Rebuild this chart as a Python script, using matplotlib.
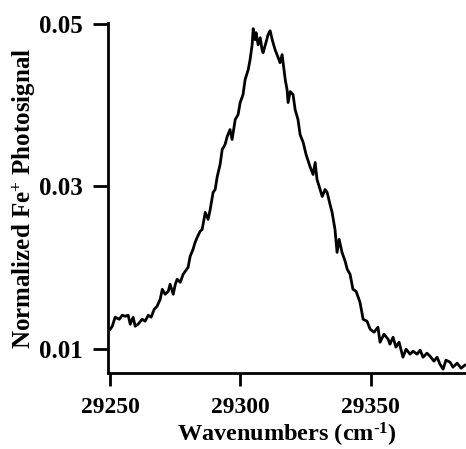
import matplotlib
matplotlib.use("Agg")
import matplotlib.pyplot as plt

# photosignal trace
wavenumber = [
    29250.0, 29250.8, 29251.9, 29253.5, 29254.6, 29255.8, 29256.9, 29257.7, 29258.8, 29259.6,
    29260.7, 29262.3, 29263.4, 29264.6, 29265.7, 29266.9, 29268.0, 29269.2, 29270.0, 29271.1,
    29272.3, 29273.0, 29274.2, 29275.0, 29275.7, 29276.9, 29278.0, 29278.8, 29279.9, 29280.7,
    29281.8, 29282.6, 29283.4, 29284.5, 29285.3, 29286.5, 29287.6, 29288.4, 29289.5, 29290.3,
    29291.1, 29292.2, 29293.0, 29294.1, 29294.9, 29296.0, 29296.8, 29298.0, 29299.1, 29299.9,
    29301.0, 29301.8, 29303.0, 29303.7, 29304.5, 29304.9, 29305.6, 29306.0, 29306.8, 29307.6,
    29308.3, 29308.7, 29309.9, 29310.6, 29311.4, 29312.2, 29313.3, 29314.5, 29315.2, 29316.0,
    29317.2, 29317.9, 29318.3, 29319.1, 29320.2, 29321.0, 29322.1, 29322.9, 29324.1, 29325.2,
    29326.7, 29327.9, 29328.7, 29329.4, 29330.6, 29331.4, 29332.5, 29333.3, 29334.4, 29335.2,
    29336.3, 29337.1, 29337.9, 29339.0, 29340.2, 29341.0, 29342.1, 29343.2, 29344.4, 29345.9,
    29347.1, 29348.6, 29349.8, 29351.3, 29352.8, 29353.6, 29355.1, 29356.7, 29357.4, 29358.6,
    29359.7, 29360.9, 29362.4, 29363.6, 29365.1, 29366.3, 29367.8, 29369.0, 29370.1, 29371.6,
    29372.8, 29374.3, 29375.5, 29376.6, 29377.8, 29378.9, 29380.5, 29381.6, 29383.2, 29384.7,
    29386.2,
]
signal = [
    0.01245, 0.01282, 0.01393, 0.01368, 0.01417, 0.01405, 0.01417, 0.01307, 0.01393, 0.01282,
    0.01307, 0.01368, 0.01344, 0.01417, 0.01393, 0.01491, 0.01528, 0.01613, 0.01736, 0.01675,
    0.01712, 0.01798, 0.01675, 0.01798, 0.01859, 0.01822, 0.01920, 0.01957, 0.02006, 0.02141,
    0.02227, 0.02313, 0.02374, 0.02448, 0.02472, 0.02681, 0.02595, 0.02718, 0.02926, 0.02963,
    0.03123, 0.03270, 0.03454, 0.03515, 0.03613, 0.03699, 0.03577, 0.03822, 0.03883, 0.04031,
    0.04129, 0.04313, 0.04436, 0.04558, 0.04742, 0.04939, 0.04804, 0.04890, 0.04742, 0.04828,
    0.04681, 0.04644, 0.04779, 0.04865, 0.04914, 0.04804, 0.04681, 0.04583, 0.04521, 0.04620,
    0.04313, 0.04190, 0.04031, 0.04166, 0.04129, 0.03945, 0.03822, 0.03638, 0.03540, 0.03393,
    0.03245, 0.03147, 0.03294, 0.03086, 0.02963, 0.02877, 0.02963, 0.02926, 0.02779, 0.02681,
    0.02472, 0.02190, 0.02350, 0.02190, 0.02080, 0.01982, 0.01920, 0.01736, 0.01712, 0.01577,
    0.01368, 0.01344, 0.01245, 0.01209, 0.01270, 0.01086, 0.01184, 0.01123, 0.01061, 0.01147,
    0.01025, 0.01086, 0.00902, 0.01000, 0.00939, 0.00975, 0.00939, 0.00988, 0.00902, 0.00951,
    0.00914, 0.00853, 0.00902, 0.00816, 0.00755, 0.00865, 0.00840, 0.00779, 0.00828, 0.00767,
    0.00804,
]
x_ticks = [29250, 29300, 29350]
y_ticks = [0.01, 0.03, 0.05]
y_tick_labels = ["0.01", "0.03", "0.05"]

plt.rcParams["font.family"] = ["Liberation Serif", "DejaVu Serif"]
plt.rcParams["font.weight"] = "bold"
# bold Times-like superscripts
plt.rcParams["mathtext.fontset"] = "custom"
plt.rcParams["mathtext.rm"] = "Liberation Serif:bold"
plt.rcParams["mathtext.bf"] = "Liberation Serif:bold"
plt.rcParams["mathtext.it"] = "Liberation Serif:bold:italic"

fig = plt.figure(figsize=(4.66, 4.49), dpi=100)
ax = fig.add_axes([0.232, 0.169, 0.768, 0.78])

ax.plot(wavenumber, signal, color="black", lw=2.0)

ax.set_xlim(29249.2, 29386.6)
ax.set_ylim(0.00706, 0.0501)

ax.set_xticks(x_ticks)
ax.set_yticks(y_ticks)
ax.set_yticklabels(y_tick_labels)
ax.tick_params(axis="both", width=2, direction="out")
ax.tick_params(axis="y", length=11, pad=7, labelsize=18)
ax.tick_params(axis="x", length=9.5, pad=8, labelsize=17)

for side in ["top", "right"]:
    ax.spines[side].set_visible(False)
for side in ["left", "bottom"]:
    ax.spines[side].set_linewidth(2)

ax.set_xlabel("Wavenumbers (cm$^{\\text{-1}}$)", fontsize=17.5, fontweight="bold", labelpad=1.5)
ax.set_ylabel("Normalized Fe$^{\\text{+}}$ Photosignal", fontsize=18, fontweight="bold", labelpad=1)

fig.savefig("out.png", dpi=100)
